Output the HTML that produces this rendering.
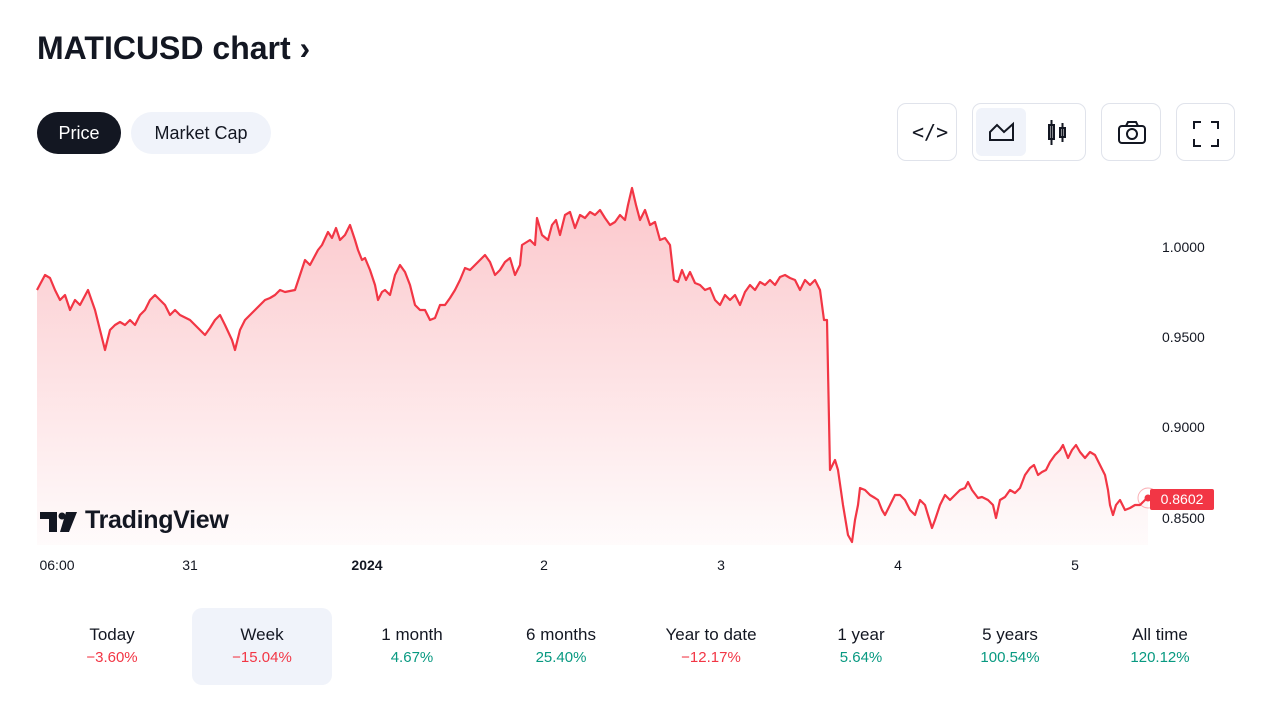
<!DOCTYPE html>
<html><head><meta charset="utf-8"><style>
body{margin:0;width:1280px;height:720px;background:#fff;font-family:"Liberation Sans",sans-serif;color:#131722;position:relative;overflow:hidden}
.a{position:absolute}
.pill{position:absolute;top:112px;height:42px;border-radius:21px;font-size:18px;line-height:42px;text-align:center}
.ib{position:absolute;top:103px;height:58px;border:1px solid #e0e3eb;border-radius:9px;box-sizing:border-box}
.tab{position:absolute;top:608px;width:140px;height:77px;text-align:center;border-radius:10px}
.tab .t{margin-top:17px;font-size:17px;color:#131722}
.tab .v{margin-top:4px;font-size:15px}
.r{color:#f23645}.g{color:#089981}
.yl{position:absolute;left:1162px;font-size:14px;color:#131722}
.xl{position:absolute;top:557px;font-size:14px;color:#131722;transform:translateX(-50%)}
</style></head><body>
<div class="a" style="left:37px;top:30px;font-size:32px;font-weight:bold">MATICUSD chart ›</div>
<div class="pill" style="left:37px;width:84px;background:#131722;color:#fff">Price</div>
<div class="pill" style="left:131px;width:140px;background:#f0f3fa">Market Cap</div>
<div class="ib" style="left:897px;width:60px"><div class="a" style="left:14px;top:16px;font-size:20px;font-family:'DejaVu Sans Mono',monospace">&lt;/&gt;</div></div>
<div class="ib" style="left:972px;width:114px"><div class="a" style="left:3px;top:4px;width:50px;height:48px;background:#f0f3fa;border-radius:6px"></div>
<svg class="a" style="left:15px;top:16px" width="28" height="24"><path d="M2 20 L2 12 L9 5 L16 12 L25 4 L25 20 Z" fill="none" stroke="#131722" stroke-width="2"/></svg>
<svg class="a" style="left:72px;top:14px" width="24" height="30"><rect x="4" y="7" width="5" height="14" fill="none" stroke="#131722" stroke-width="2"/><line x1="6.5" y1="2" x2="6.5" y2="27" stroke="#131722" stroke-width="2"/><rect x="15" y="10" width="5" height="9" fill="none" stroke="#131722" stroke-width="2"/><line x1="17.5" y1="5" x2="17.5" y2="24" stroke="#131722" stroke-width="2"/></svg></div>
<div class="ib" style="left:1101px;width:60px"><svg class="a" style="left:15px;top:17px" width="30" height="24"><rect x="2" y="5" width="26" height="17" rx="3" fill="none" stroke="#131722" stroke-width="2"/><circle cx="15" cy="13" r="5" fill="none" stroke="#131722" stroke-width="2"/><path d="M9 5 L11 1 L19 1 L21 5" fill="none" stroke="#131722" stroke-width="2"/></svg></div>
<div class="ib" style="left:1176px;width:59px"><svg class="a" style="left:16px;top:17px" width="26" height="26"><path d="M1 8V1H8 M18 1H25V8 M25 18V25H18 M8 25H1V18" fill="none" stroke="#131722" stroke-width="2"/></svg></div>

<svg class="a" style="left:0;top:0" width="1280" height="600">
<defs><linearGradient id="gr" x1="0" y1="0" x2="0" y2="1"><stop offset="0" stop-color="#f23645" stop-opacity="0.28"/><stop offset="1" stop-color="#f23645" stop-opacity="0.02"/></linearGradient></defs>
<path d="M37,290 L45,275 50,278 55,290 60,300 65,295 70,310 75,300 80,305 88,290 95,310 100,330 105,350 110,330 115,325 120,322 125,325 130,320 135,325 140,315 145,310 150,300 155,295 160,300 165,305 170,315 175,310 180,315 190,320 200,330 205,335 210,328 215,320 220,315 225,325 232,340 235,350 240,330 245,320 250,315 255,310 260,305 265,300 270,298 275,295 280,290 285,292 295,290 300,275 305,260 310,265 318,250 322,245 328,232 332,238 336,228 340,240 345,235 350,225 355,240 358,250 362,260 365,258 370,270 375,285 378,300 382,292 385,290 390,295 395,275 400,265 405,272 410,285 415,305 420,310 425,310 430,320 435,318 440,305 445,305 450,298 455,290 460,280 465,268 470,270 475,265 480,260 485,255 490,262 495,275 500,270 505,262 510,258 515,275 520,265 522,245 530,240 535,245 537,218 542,235 548,240 552,225 556,220 560,235 565,215 570,212 575,228 580,215 585,218 590,212 595,215 600,210 605,218 610,225 615,222 620,215 625,220 628,205 632,188 636,205 640,220 645,210 650,225 655,222 660,240 665,238 670,245 674,280 678,282 682,270 686,280 690,272 695,283 700,285 705,290 710,288 715,300 720,305 725,295 730,300 735,295 740,305 745,292 750,285 755,290 760,282 765,285 770,280 775,285 780,277 785,275 790,278 795,280 800,290 805,280 810,285 815,280 820,290 824,320 827,320 830,470 835,460 838,470 843,505 848,535 852,542 855,520 858,505 860,488 865,490 870,495 875,498 878,500 882,510 885,515 890,505 895,495 900,495 905,500 910,510 915,515 920,500 925,505 928,515 932,528 935,520 940,505 945,495 950,500 955,495 960,490 965,488 968,482 972,490 978,498 982,497 988,500 993,505 996,518 1000,500 1005,497 1010,490 1015,493 1020,488 1025,475 1030,468 1034,465 1038,475 1042,472 1046,470 1050,462 1055,455 1060,450 1063,445 1068,458 1072,450 1076,445 1080,452 1085,458 1090,452 1095,455 1100,465 1105,475 1108,490 1110,505 1113,515 1116,505 1120,500 1125,510 1130,508 1135,505 1140,505 1145,500 1148,498 L1148,545 L37,545 Z" fill="url(#gr)"/>
<path d="M37,290 L45,275 50,278 55,290 60,300 65,295 70,310 75,300 80,305 88,290 95,310 100,330 105,350 110,330 115,325 120,322 125,325 130,320 135,325 140,315 145,310 150,300 155,295 160,300 165,305 170,315 175,310 180,315 190,320 200,330 205,335 210,328 215,320 220,315 225,325 232,340 235,350 240,330 245,320 250,315 255,310 260,305 265,300 270,298 275,295 280,290 285,292 295,290 300,275 305,260 310,265 318,250 322,245 328,232 332,238 336,228 340,240 345,235 350,225 355,240 358,250 362,260 365,258 370,270 375,285 378,300 382,292 385,290 390,295 395,275 400,265 405,272 410,285 415,305 420,310 425,310 430,320 435,318 440,305 445,305 450,298 455,290 460,280 465,268 470,270 475,265 480,260 485,255 490,262 495,275 500,270 505,262 510,258 515,275 520,265 522,245 530,240 535,245 537,218 542,235 548,240 552,225 556,220 560,235 565,215 570,212 575,228 580,215 585,218 590,212 595,215 600,210 605,218 610,225 615,222 620,215 625,220 628,205 632,188 636,205 640,220 645,210 650,225 655,222 660,240 665,238 670,245 674,280 678,282 682,270 686,280 690,272 695,283 700,285 705,290 710,288 715,300 720,305 725,295 730,300 735,295 740,305 745,292 750,285 755,290 760,282 765,285 770,280 775,285 780,277 785,275 790,278 795,280 800,290 805,280 810,285 815,280 820,290 824,320 827,320 830,470 835,460 838,470 843,505 848,535 852,542 855,520 858,505 860,488 865,490 870,495 875,498 878,500 882,510 885,515 890,505 895,495 900,495 905,500 910,510 915,515 920,500 925,505 928,515 932,528 935,520 940,505 945,495 950,500 955,495 960,490 965,488 968,482 972,490 978,498 982,497 988,500 993,505 996,518 1000,500 1005,497 1010,490 1015,493 1020,488 1025,475 1030,468 1034,465 1038,475 1042,472 1046,470 1050,462 1055,455 1060,450 1063,445 1068,458 1072,450 1076,445 1080,452 1085,458 1090,452 1095,455 1100,465 1105,475 1108,490 1110,505 1113,515 1116,505 1120,500 1125,510 1130,508 1135,505 1140,505 1145,500 1148,498" fill="none" stroke="#f23645" stroke-width="2.2" stroke-linejoin="round"/>
<circle cx="1148" cy="498" r="3.5" fill="#f23645"/>
<circle cx="1148" cy="498" r="10" fill="none" stroke="#f23645" stroke-opacity="0.4"/>
<rect x="1150" y="489" width="64" height="21" rx="2" fill="#f23645"/>
<text x="1182" y="504" font-size="14" fill="#fff" text-anchor="middle" font-family="Liberation Sans">0.8602</text>
<path d="M40 512 H57 V532 H49 V519 H40 Z" fill="#131722"/>
<circle cx="62" cy="516" r="3.5" fill="#131722"/>
<path d="M66 512 H77 L69 532 H60 Z" fill="#131722"/>
</svg>
<div class="yl" style="top:239px">1.0000</div>
<div class="yl" style="top:329px">0.9500</div>
<div class="yl" style="top:419px">0.9000</div>
<div class="yl" style="top:510px">0.8500</div>
<div class="a" style="left:85px;top:506px;font-size:25px;font-weight:bold;color:#131722;letter-spacing:-0.3px">TradingView</div>
<div class="xl" style="left:57px">06:00</div>
<div class="xl" style="left:190px">31</div>
<div class="xl" style="left:367px;font-weight:bold">2024</div>
<div class="xl" style="left:544px">2</div>
<div class="xl" style="left:721px">3</div>
<div class="xl" style="left:898px">4</div>
<div class="xl" style="left:1075px">5</div>
<div class="tab" style="left:42px"><div class="t">Today</div><div class="v r">−3.60%</div></div>
<div class="tab" style="left:192px;background:#f0f3fa"><div class="t">Week</div><div class="v r">−15.04%</div></div>
<div class="tab" style="left:342px"><div class="t">1 month</div><div class="v g">4.67%</div></div>
<div class="tab" style="left:491px"><div class="t">6 months</div><div class="v g">25.40%</div></div>
<div class="tab" style="left:641px"><div class="t">Year to date</div><div class="v r">−12.17%</div></div>
<div class="tab" style="left:791px"><div class="t">1 year</div><div class="v g">5.64%</div></div>
<div class="tab" style="left:940px"><div class="t">5 years</div><div class="v g">100.54%</div></div>
<div class="tab" style="left:1090px"><div class="t">All time</div><div class="v g">120.12%</div></div>
</body></html>
